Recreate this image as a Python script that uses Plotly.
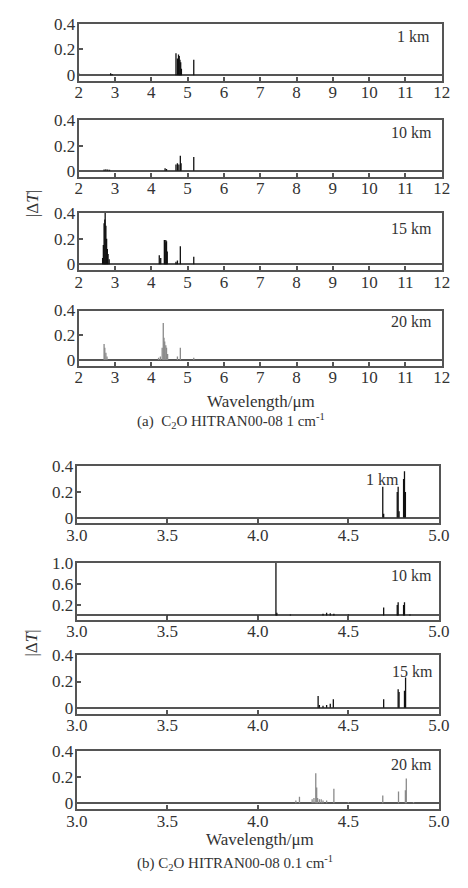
import plotly.graph_objects as go

W, H = 468, 888

# ---------------- data ----------------
# (a) 1 cm^-1 resolution, 2-12 um
a1_x = [2.02, 2.88, 2.92, 4.68, 4.72, 4.75, 4.77, 4.79, 4.81, 4.83, 5.17]
a1_y = [0.01, 0.015, 0.008, 0.17, 0.13, 0.16, 0.15, 0.12, 0.10, 0.05, 0.12]

a2_x = [2.70, 2.75, 2.80, 2.85, 4.38, 4.42, 4.68, 4.72, 4.76, 4.80, 4.82, 5.17]
a2_y = [0.01, 0.012, 0.01, 0.008, 0.02, 0.015, 0.05, 0.06, 0.05, 0.12, 0.06, 0.11]

a3_x = [2.02, 2.66, 2.68, 2.70, 2.72, 2.73, 2.75, 2.77, 2.79, 2.81, 2.84,
        4.22, 4.26, 4.36, 4.38, 4.40, 4.42, 4.44, 4.68, 4.72, 4.80, 5.17]
a3_y = [0.01, 0.05, 0.15, 0.32, 0.35, 0.42, 0.30, 0.20, 0.12, 0.08, 0.04,
        0.07, 0.05, 0.19, 0.17, 0.19, 0.18, 0.10, 0.02, 0.03, 0.14, 0.06]

a4_x = [2.70, 2.72, 2.75, 2.78, 4.20, 4.25, 4.30, 4.33, 4.35, 4.37, 4.40,
        4.42, 4.45, 4.72, 4.80, 5.17]
a4_y = [0.13, 0.10, 0.06, 0.03, 0.02, 0.03, 0.10, 0.30, 0.18, 0.15, 0.12,
        0.10, 0.05, 0.03, 0.10, 0.02]

# (b) 0.1 cm^-1 resolution, 3-5 um
b1_x = [4.690, 4.695, 4.770, 4.775, 4.780, 4.805, 4.810, 4.815]
b1_y = [0.24, 0.03, 0.20, 0.24, 0.05, 0.30, 0.36, 0.20]

b2_x = [3.50, 4.00, 4.100, 4.105, 4.18, 4.36, 4.38, 4.40, 4.42, 4.50,
        4.695, 4.770, 4.775, 4.805, 4.810, 4.84]
b2_y = [0.01, 0.01, 1.00, 0.05, 0.02, 0.03, 0.05, 0.04, 0.03, 0.02,
        0.15, 0.20, 0.25, 0.20, 0.25, 0.02]

b3_x = [4.333, 4.34, 4.36, 4.38, 4.40, 4.417, 4.695, 4.775, 4.780, 4.810, 4.816]
b3_y = [0.09, 0.02, 0.015, 0.02, 0.03, 0.065, 0.065, 0.14, 0.12, 0.13, 0.23]

b4_x = [4.21, 4.23, 4.30, 4.31, 4.32, 4.325, 4.33, 4.34, 4.35, 4.36, 4.38,
        4.42, 4.50, 4.69, 4.777, 4.815, 4.82, 4.86]
b4_y = [0.02, 0.05, 0.03, 0.04, 0.23, 0.12, 0.04, 0.03, 0.03, 0.02, 0.02,
        0.11, 0.01, 0.06, 0.09, 0.10, 0.19, 0.01]

altitudes = ["1 km", "10 km", "15 km", "20 km"]

a_ticks = [2, 3, 4, 5, 6, 7, 8, 9, 10, 11, 12]
a_ticklabels = [str(t) for t in a_ticks]
b_ticks = [3.0, 3.5, 4.0, 4.5, 5.0]
b_ticklabels = ["3.0", "3.5", "4.0", "4.5", "5.0"]

xlabel = "Wavelength/μm"
ylabel = "|Δ<i>T</i>|"
cap_a = "(a)  C<sub>2</sub>O HITRAN00-08 1 cm<sup>-1</sup>"
cap_b = "(b) C<sub>2</sub>O HITRAN00-08 0.1 cm<sup>-1</sup>"

# ---------------- layout helpers ----------------
def X(px):
    return px / W

def Y(py):
    return 1 - py / H

FONT = "Liberation Serif"
FRAME = "#555555"
TXT = "#333333"

panels = [
    (a1_x, a1_y, "#111111", (71, 452), (15, 73), [-0.045, 0.4], [0, 0.2, 0.4], ["0", "0.2", "0.4"], a_ticks, a_ticklabels, [2, 12], altitudes[0], (442, 28)),
    (a2_x, a2_y, "#111111", (71, 452), (113, 170), [-0.045, 0.4], [0, 0.2, 0.4], ["0", "0.2", "0.4"], a_ticks, a_ticklabels, [2, 12], altitudes[1], (444, 125)),
    (a3_x, a3_y, "#111111", (71, 452), (207, 265), [-0.045, 0.4], [0, 0.2, 0.4], ["0", "0.2", "0.4"], a_ticks, a_ticklabels, [2, 12], altitudes[2], (444, 223)),
    (a4_x, a4_y, "#8a8a8a", (71, 452), (306, 362), [-0.045, 0.4], [0, 0.2, 0.4], ["0", "0.2", "0.4"], a_ticks, a_ticklabels, [2, 12], altitudes[3], (444, 317)),
    (b1_x, b1_y, "#111111", (69, 449), (464, 522), [-0.045, 0.4], [0, 0.2, 0.4], ["0", "0.2", "0.4"], b_ticks, b_ticklabels, [3, 5], altitudes[0], (409, 477)),
    (b2_x, b2_y, "#111111", (69, 449), (562, 620), [-0.085, 1.0], [0.2, 0.6, 1.0], ["0.2", "0.6", "1.0"], b_ticks, b_ticklabels, [3, 5], altitudes[1], (444, 575)),
    (b3_x, b3_y, "#111111", (69, 449), (656, 715), [-0.045, 0.4], [0, 0.2, 0.4], ["0", "0.2", "0.4"], b_ticks, b_ticklabels, [3, 5], altitudes[2], (445, 672)),
    (b4_x, b4_y, "#8a8a8a", (69, 449), (753, 812), [-0.045, 0.4], [0, 0.2, 0.4], ["0", "0.2", "0.4"], b_ticks, b_ticklabels, [3, 5], altitudes[3], (444, 767)),
]

fig = go.Figure()
annotations = []
layout = {}

for i, (xs, ys, col, xpx, ypx, yr, yt, ytl, xt, xtl, xr, lab, lpos) in enumerate(panels):
    n = i + 1
    xa = "x" if n == 1 else f"x{n}"
    ya = "y" if n == 1 else f"y{n}"
    lx, ly = [], []
    for x, y in zip(xs, ys):
        lx += [x, x, None]
        ly += [0, y, None]
    fig.add_trace(go.Scatter(x=lx, y=ly, mode="lines",
                             line=dict(color=col, width=1.3),
                             xaxis=xa, yaxis=ya, showlegend=False,
                             hoverinfo="skip"))
    xkey = "xaxis" if n == 1 else f"xaxis{n}"
    ykey = "yaxis" if n == 1 else f"yaxis{n}"
    layout[xkey] = dict(
        domain=[X(xpx[0]), X(xpx[1])], anchor=ya, range=xr,
        tickmode="array", tickvals=xt, ticktext=xtl,
        ticks="inside", ticklen=4, tickwidth=1.5, tickcolor=FRAME,
        showline=True, mirror=True, linecolor=FRAME, linewidth=2,
        showgrid=False, zeroline=False,
        tickfont=dict(family=FONT, size=17, color=TXT),
        ticklabelstandoff=-5,
        fixedrange=True,
    )
    layout[ykey] = dict(
        domain=[Y(ypx[1]), Y(ypx[0])], anchor=xa, range=yr,
        tickmode="array", tickvals=yt, ticktext=ytl,
        ticks="inside", ticklen=4, tickwidth=1.5, tickcolor=FRAME,
        showline=True, mirror=True, linecolor=FRAME, linewidth=2,
        showgrid=False, zeroline=True, zerolinecolor=FRAME, zerolinewidth=1.5,
        tickfont=dict(family=FONT, size=17, color=TXT),
        ticklabelstandoff=-2,
        fixedrange=True,
    )
    annotations.append(dict(
        x=X(lpos[0]), y=Y(lpos[1]), xref="paper", yref="paper",
        text=lab, showarrow=False, xanchor="right", yanchor="middle",
        font=dict(family=FONT, size=16, color=TXT)))

for (cx, cy, txt, size, ang) in [
    (262, 398, xlabel, 17, 0),
    (231, 418, cap_a, 15, 0),
    (261, 843, xlabel, 17, 0),
    (235, 867, cap_b, 15, 0),
    (22, 197, ylabel, 17, -90),
    (22, 643, ylabel, 17, -90),
]:
    annotations.append(dict(
        x=X(cx), y=Y(cy), xref="paper", yref="paper", text=txt,
        showarrow=False, xanchor="center", yanchor="middle", textangle=ang,
        font=dict(family=FONT, size=size, color=TXT)))

fig.update_layout(
    width=W, height=H,
    margin=dict(l=0, r=0, t=0, b=0),
    paper_bgcolor="white", plot_bgcolor="white",
    annotations=annotations,
    **layout,
)

fig.write_html("out.html", config={"displayModeBar": False})
